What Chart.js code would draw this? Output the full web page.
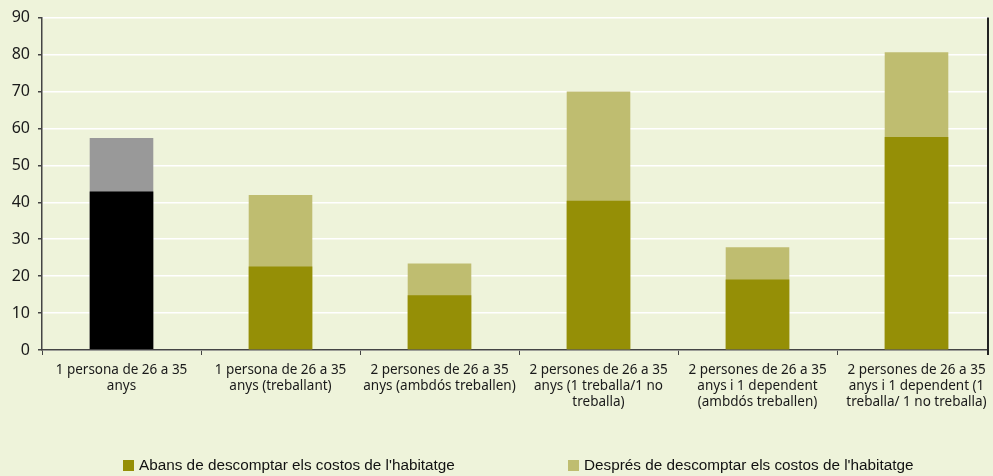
<!DOCTYPE html>
<html>
<head>
<meta charset="utf-8">
<script src="https://cdn.jsdelivr.net/npm/chart.js@4/dist/chart.umd.min.js"></script>
<style>
    html, body { margin: 0; padding: 0; background: #eef3da; overflow: hidden; }
    #wrap { position: relative; width: 993px; height: 476px; overflow: hidden; }
    #chart { display: block; }
    .legend-item { position: absolute; top: 456px; line-height: 17px; font-family: "Liberation Sans", Arial, sans-serif; font-size: 15.3px; color: #111; white-space: nowrap; }
    .legend-item span { display: inline-block; width: 11px; height: 11px; margin-right: 5px; vertical-align: -1px; }
</style>
</head>
<body>
<div id="wrap">
    <!-- the plot runs a few pixels past the window on the right, like the original -->
    <canvas id="chart" width="996" height="476"></canvas>
    <div class="legend-item" style="left:123px"><span style="background:#958f06"></span>Abans de descomptar els costos de l'habitatge</div>
    <div class="legend-item" style="left:568px"><span style="background:#bfbd70"></span>Després de descomptar els costos de l'habitatge</div>
</div>
<script>
// Categories (x axis labels, line by line)
const categories = [
    ['1 persona de 26 a 35', 'anys'],
    ['1 persona de 26 a 35', 'anys (treballant)'],
    ['2 persones de 26 a 35', 'anys (ambdós treballen)'],
    ['2 persones de 26 a 35', 'anys (1 treballa/1 no', 'treballa)'],
    ['2 persones de 26 a 35', 'anys i 1 dependent', '(ambdós treballen)'],
    ['2 persones de 26 a 35', 'anys i 1 dependent (1', 'treballa/ 1 no treballa)']
];

// Abans de descomptar els costos de l'habitatge
const abans = [42.9, 22.6, 14.8, 40.4, 19.1, 57.7];
// Després de descomptar els costos de l'habitatge
const despres = [57.4, 42.0, 23.4, 70.0, 27.8, 80.6];

const yTicks = { min: 0, max: 90, step: 10 };

// Theme colors
const colors = {
    bg: '#eef3da',
    olive: '#958f06',
    oliveLight: '#bfbd70',
    black: '#000000',
    grey: '#999999',
    axis: '#444444',
    text: '#1a1a1a'
};

const abansColors = abans.map((v, i) => i === 0 ? colors.black : colors.olive);
const despresColors = despres.map((v, i) => i === 0 ? colors.grey : colors.oliveLight);

// frame line on the right, the plot is cut there
const rightBorder = {
    id: 'rightBorder',
    afterDraw(chart) {
        const a = chart.chartArea;
        const ctx = chart.ctx;
        const x = 988;
        ctx.save();
        ctx.fillStyle = colors.bg;
        ctx.fillRect(x + 1, a.top - 2, chart.width - x, a.bottom - a.top + 9);
        ctx.strokeStyle = '#222';
        ctx.lineWidth = 2;
        ctx.beginPath();
        ctx.moveTo(x, a.top);
        ctx.lineTo(x, a.bottom + 5);
        ctx.stroke();
        ctx.restore();
    }
};

new Chart(document.getElementById('chart'), {
    type: 'bar',
    data: {
        labels: categories,
        datasets: [
            { label: "Abans de descomptar els costos de l'habitatge", data: abans, backgroundColor: abansColors },
            { label: "Després de descomptar els costos de l'habitatge", data: despres, backgroundColor: despresColors }
        ]
    },
    options: {
        responsive: false,
        animation: false,
        layout: { padding: { top: 16, right: 0, left: 0, bottom: 0 } },
        datasets: { bar: { categoryPercentage: 1, barPercentage: 0.4 } },
        plugins: {
            legend: { display: false },
            tooltip: { enabled: false }
        },
        scales: {
            x: {
                stacked: true,
                afterFit: s => { s.height = 126; },
                grid: { drawOnChartArea: false, tickLength: 5, tickColor: colors.axis, offset: true },
                border: { color: colors.axis, width: 1.5 },
                ticks: {
                    color: colors.text,
                    maxRotation: 0,
                    autoSkip: false,
                    padding: 7,
                    font: { family: 'Noto Sans', size: 13.5, lineHeight: 1.18 }
                }
            },
            y: {
                stacked: false,
                min: yTicks.min,
                max: yTicks.max,
                afterFit: s => { s.width = 42; },
                grid: { color: '#ffffff', lineWidth: 1.5, tickLength: 4, tickColor: colors.axis },
                border: { color: colors.axis, width: 1.5 },
                ticks: {
                    stepSize: yTicks.step,
                    color: colors.text,
                    padding: 8,
                    font: { family: 'Noto Sans', size: 16 }
                }
            }
        }
    },
    plugins: [rightBorder]
});
</script>
</body>
</html>
